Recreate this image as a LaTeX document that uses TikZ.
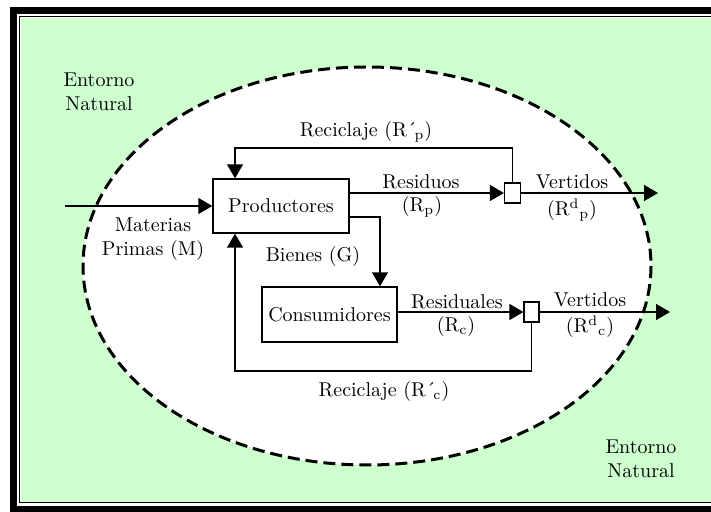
\documentclass[tikz,border=0pt]{standalone}
\usetikzlibrary{arrows.meta}
\definecolor{verde}{RGB}{206,255,206}
\tikzset{
  bloque/.style={draw,line width=0.7pt,fill=white,minimum width=68pt,minimum height=27pt,inner sep=0pt},
  nodo/.style={draw,line width=0.6pt,fill=white,minimum width=8pt,minimum height=10pt,inner sep=0pt},
  flecha/.style={line width=0.75pt,-{Triangle[length=7pt,width=8pt]}},
  linea/.style={line width=0.75pt}
}
\newcommand{\prima}{\textasciiacute\kern-1.2pt}
\begin{document}
\begin{tikzpicture}[x=0.5pt,y=-0.5pt]
\useasboundingbox (0,0) rectangle (711,512);
% marco
\fill[verde] (21,18) rectangle (711,502);
\draw[line width=3.5pt] (711,10.5) -| (13.5,509.5) -- (711,509.5);
\draw[line width=0.6pt] (711,16.8) -| (19.8,502.8) -- (711,502.8);
% entorno
\draw[fill=white,line width=1.5pt,dash pattern=on 6pt off 3pt] (367,266) ellipse [x radius=284, y radius=199];
\node[align=center] (ent1) at (99,92) {Entorno\\Natural};
\node[align=center] (ent2) at (641,459) {Entorno\\Natural};
% bloques
\node[bloque] (prod) at (281,206) {Productores};
\node[bloque,minimum width=67.5pt,minimum height=27.5pt] (cons) at (329.5,314.5) {Consumidores};
\node[nodo] (sp) at (512.5,193) {};
\node[nodo,minimum width=7.5pt] (sc) at (531.5,312) {};
\coordinate (in) at (65,206);
\coordinate (vp) at (658,193);
\coordinate (vc) at (670,312);
\coordinate (rp) at (235,148);
\coordinate (rc) at (235,371);
\coordinate (bg) at (380,217);
% flujos
\draw[flecha] (in) -- (prod);
\node[align=center] (mp) at (153,239) {Materias\\Primas (M)};
\draw[flecha] (prod.east |- sp) -- (sp);
\node (res) at (421,182) {Residuos};
\node (rp1) at (422,207) {(R\textsubscript{p})};
\draw[flecha] (sp) -- (vp);
\node (vert1) at (572,182) {Vertidos};
\node (rdp) at (572,210) {(R\textsuperscript{d}\textsubscript{p})};
\draw[flecha] (sp.north) |- (rp) -- (rp |- prod.north);
\node (rec1) at (366,132) {Reciclaje (R\prima\textsubscript{p})};
\draw[flecha] (prod.east |- bg) -- (bg) -- (bg |- cons.north);
\node (bien) at (313,257) {Bienes (G)};
\draw[flecha] (cons.east |- sc) -- (sc);
\node (resl) at (457,302) {Residuales};
\node (rc1) at (456,327) {(R\textsubscript{c})};
\draw[flecha] (sc) -- (vc);
\node (vert2) at (590,300) {Vertidos};
\node (rdc) at (590,327) {(R\textsuperscript{d}\textsubscript{c})};
\draw[flecha] (sc.south) |- (rc) -- (rc |- prod.south);
\node (rec2) at (384,392) {Reciclaje (R\prima\textsubscript{c})};
\end{tikzpicture}
\end{document}
